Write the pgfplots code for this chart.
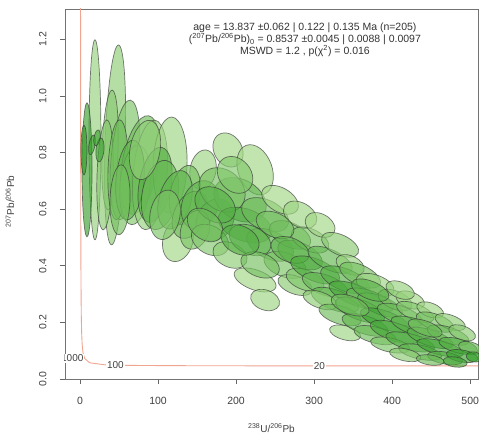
\documentclass[border=0pt]{standalone}
\usepackage{fontspec}
\setmainfont{Liberation Sans}
\usepackage{pgfplots}
\pgfplotsset{compat=1.18}

\definecolor{ellight}{RGB}{175,222,145}
\definecolor{elldark}{RGB}{45,155,35}
\definecolor{concol}{RGB}{240,165,145}
\pgfdeclareplotmark{blank}{}

% error ellipses: centre (x,y), semi-axes a,b in pt, screen angle, colour level
\pgfplotstableread{
x      y      a    b    ang  c
19.2   0.845  100  6    90   20
44.9   0.827  100  10   88   25
38.5   0.809  60   8    88   30
32.1   0.721  55   8    88   30
9.0    0.739  67   5    90   90
5.1    0.809  25   3    90   95
15.4   0.827  10   3    80   90
25.6   0.809  12   4    85   85
21.8   0.852  8    3    80   90
57.7   0.774  60   14   85   40
48.7   0.739  50   10   88   50
76.9   0.756  50   18   80   50
70.5   0.686  40   15   85   35
89.7   0.721  55   17   85   20
115.4  0.756  48   17   88   15
64.1   0.703  40   14   85   60
96.2   0.686  38   16   80   70
102.6  0.650  35   18   80   55
125.6  0.491  22   15   75   10
157.7  0.739  20   13   80   15
134.6  0.650  30   15   80   45
121.8  0.633  30   16   75   60
141.0  0.580  25   16   65   50
109.0  0.580  25   15   80   40
153.8  0.615  25   18   70   60
173.1  0.562  22   18   60   55
147.4  0.527  20   14   70   40
51.3   0.633  35   10   88   45
83.3   0.809  30   15   80   25
189.7  0.809  18   14   -60  10
224.4  0.739  26   17   -70  10
205.1  0.633  28   20   -30  60
182.1  0.668  25   20   -40  45
211.5  0.544  28   16   -20  80
237.2  0.580  25   15   -25  50
256.4  0.633  20   12   -30  10
166.7  0.491  20   14   -30  35
192.3  0.438  18   12   -25  25
224.4  0.350  22   10   -20  10
243.6  0.474  25   14   -25  65
269.2  0.509  22   12   -25  55
282.1  0.580  18   12   -30  15
262.8  0.403  22   12   -20  40
237.2  0.279  15   10   -20  15
282.1  0.438  24   12   -25  70
294.9  0.491  20   11   -25  40
307.7  0.544  16   11   -30  10
217.9  0.491  22   14   -25  55
173.1  0.615  22   16   -35  65
198.7  0.721  20   16   -50  35
160.3  0.544  20   14   -40  50
250.0  0.544  20   12   -25  45
275.6  0.332  18   9    -20  30
288.5  0.350  20   10   -20  35
269.2  0.456  20   12   -22  60
230.8  0.403  20   12   -20  45
205.1  0.491  20   14   -25  70
301.3  0.385  26   11   -22  75
320.5  0.421  24   10   -25  60
333.3  0.474  20   10   -25  30
346.2  0.403  15   9    -25  20
314.1  0.332  24   10   -20  55
339.7  0.350  26   11   -22  70
359.0  0.367  22   10   -25  45
378.2  0.332  20   10   -20  15
326.9  0.279  25   10   -20  60
352.6  0.297  28   10   -22  80
371.8  0.279  25   9    -20  55
307.7  0.279  18   8    -20  25
333.3  0.226  22   9    -18  50
359.0  0.244  26   10   -20  75
384.6  0.261  24   9    -22  60
403.8  0.279  18   9    -22  40
423.1  0.279  15   8    -20  10
339.7  0.163  16   7    -15  15
365.4  0.191  24   9    -18  60
391.0  0.208  26   9    -20  85
410.3  0.226  24   9    -20  55
429.5  0.237  20   8    -22  35
448.7  0.244  14   7    -20  15
378.2  0.155  22   8    -15  50
403.8  0.166  26   9    -18  80
429.5  0.184  25   8    -18  65
455.1  0.201  20   8    -20  45
474.4  0.201  16   7    -20  25
397.4  0.120  20   7    -12  40
423.1  0.131  25   8    -15  75
448.7  0.145  24   8    -18  70
471.8  0.155  22   8    -18  55
489.7  0.163  14   7    -20  30
435.9  0.095  22   7    -12  60
461.5  0.110  24   7    -15  85
484.6  0.117  20   7    -15  70
500.0  0.110  12   6    -15  50
467.9  0.074  18   6    -10  70
489.7  0.081  16   6    -10  90
505.1  0.078  8    5    -10  95
416.7  0.085  16   6    -12  30
442.3  0.180  18   7    -20  50
371.8  0.314  20   9    -22  65
410.3  0.314  15   8    -22  20
346.2  0.261  20   9    -20  45
480.8  0.060  12   5    -8   80
448.7  0.067  14   5    -8   50
}\ellipses

\begin{document}
\begin{tikzpicture}
\begin{axis}[
    name=ax,
    scale only axis,
    width=413pt, height=370pt,
    xmin=-19.2, xmax=510, ymin=0, ymax=1.307,
    axis line style={black!55, line width=0.8pt},
    tick align=outside,
    major tick length=5pt,
    tick style={black!60, line width=0.8pt},
    xtick pos=bottom, ytick pos=left,
    xtick={0,100,200,300,400,500},
    ytick={0,0.2,0.4,0.6,0.8,1.0,1.2},
    /pgf/number format/assume math mode=true,
    ticklabel style={font=\fontsize{10.5}{12}\selectfont, text=black!75},
    xticklabel style={anchor=north, yshift=-10pt},
    yticklabel style={/pgf/number format/fixed, /pgf/number format/fixed zerofill,
        /pgf/number format/precision=1, anchor=south, xshift=-10pt, rotate=90},
    every axis x label/.style={at={(rel axis cs:0.5,0)}, yshift=-49pt, anchor=center},
    every axis y label/.style={at={(rel axis cs:0,0.48)}, xshift=-55pt, rotate=90, anchor=center},
    label style={font=\fontsize{10}{12}\selectfont, text=black!75},
    xlabel={\textsuperscript{238}U/\textsuperscript{206}Pb},
    ylabel={\textsuperscript{207}Pb/\textsuperscript{206}Pb},
]
% concordia
\addplot[concol, line width=0.9pt] coordinates {
(0.7037,1.394) (0.7227,1.297) (0.7423,1.207) (0.8533,0.8457) (0.9902,0.597)
(1.1629,0.4252) (1.387,0.306) (1.6874,0.2228) (2.1109,0.1643) (2.749,0.123)
(3.817,0.0936) (5.959,0.0725) (12.40,0.0573) (31.74,0.0501) (63.97,0.0480)
(128.43,0.0470) (214.38,0.0466) (321.8,0.0465) (429.3,0.0464) (515.2,0.0463)};
% error ellipses, drawn with explicit (rotated) axis vectors
\addplot[scatter, only marks, mark=blank,
    point meta=\thisrow{c},
    visualization depends on={\thisrow{a}\as\ea},
    visualization depends on={\thisrow{b}\as\eb},
    visualization depends on={\thisrow{ang}\as\eang},
    visualization depends on={\thisrow{c}\as\ec},
    scatter/@pre marker code/.code={%
        \pgfmathsetmacro\angb{\eang+90}%
        \pgfpathellipse{\pgfpointorigin}{\pgfpointpolar{\eang}{\ea pt}}{\pgfpointpolar{\angb}{\eb pt}}%
        \pgfsetfillcolor{elldark!\ec!ellight}%
        \pgfsetstrokecolor{black!80}%
        \pgfsetfillopacity{0.65}\pgfsetstrokeopacity{0.65}%
        \pgfsetlinewidth{0.7pt}%
        \pgfusepath{fill,stroke}%
    },
    scatter/@post marker code/.code={},
] table[x=x, y=y] {\ellipses};
% concordia age labels
\node[anchor=east, fill=white, inner sep=1pt, font=\fontsize{10}{12}\selectfont, text=black!75]
    at (axis cs:5.96,0.0725) {1000};
\node[anchor=east, fill=white, inner sep=1pt, xshift=-5pt, font=\fontsize{10}{12}\selectfont, text=black!75]
    at (axis cs:63.97,0.0480) {100};
\node[anchor=east, fill=white, inner sep=1pt, xshift=-5pt, font=\fontsize{10}{12}\selectfont, text=black!75]
    at (axis cs:321.8,0.0465) {20};
% results
\node[anchor=north, align=center, font=\fontsize{10.5}{12}\selectfont, text=black!80]
    at (rel axis cs:0.581,0.972) {age = 13.837 ±0.062 | 0.122 | 0.135 Ma (n=205)\\
    (\textsuperscript{207}Pb/\textsuperscript{206}Pb)\textsubscript{0} = 0.8537 ±0.0045 | 0.0088 | 0.0097\\
    MSWD = 1.2 , p(χ\textsuperscript{2}) = 0.016};
\end{axis}
\pgfresetboundingbox
\useasboundingbox (-65pt,-56pt) rectangle (414pt,379pt);
\end{tikzpicture}
\end{document}
